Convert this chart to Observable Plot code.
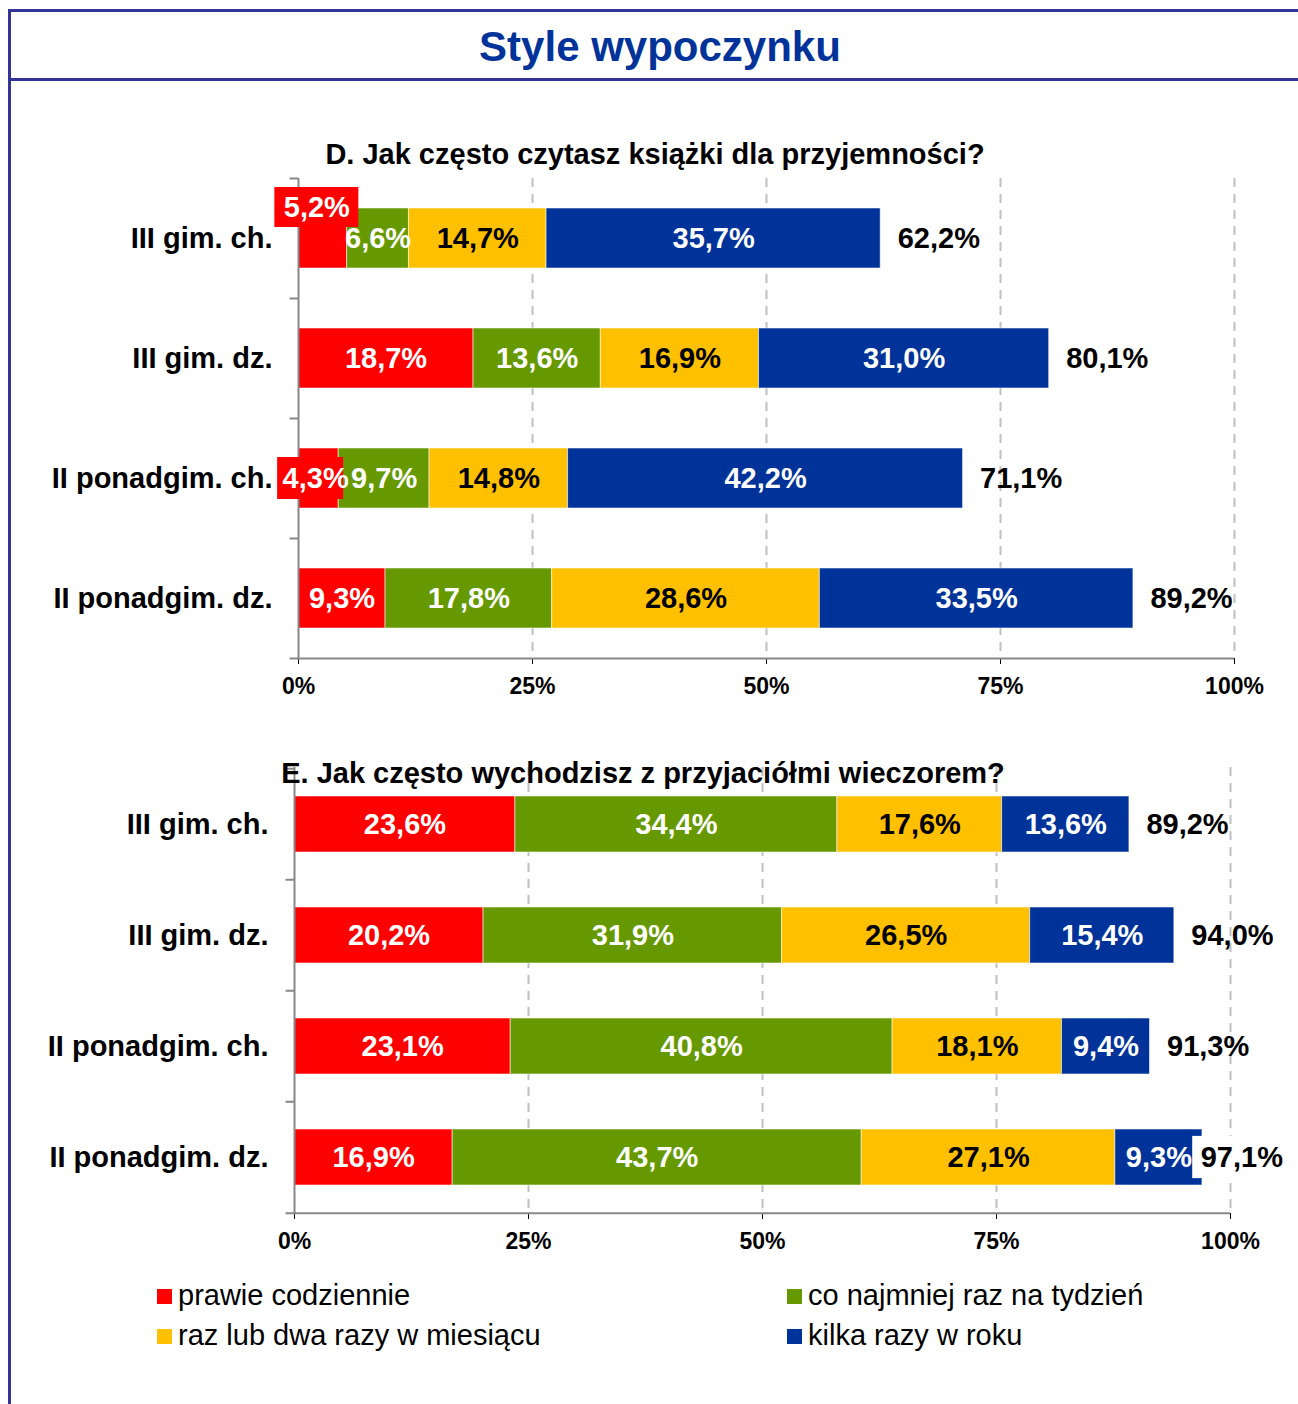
<!DOCTYPE html>
<html><head><meta charset="utf-8">
<script src="https://cdn.jsdelivr.net/npm/d3@7"></script>
<script src="https://cdn.jsdelivr.net/npm/@observablehq/plot@0.6"></script>
<style>
body{margin:0;background:#fff;}
#page{position:relative;width:1298px;height:1404px;overflow:hidden;background:#fff;font-family:"Liberation Sans",Arial,sans-serif;}
.abs{position:absolute;white-space:nowrap;line-height:1;}
.line{position:absolute;background:#333399;}
.chart{position:absolute;left:0;}
.sq{position:absolute;width:15px;height:15px;}
</style></head><body><div id="page"></div>
<script>
// ---------- data ----------
const mainTitle = "Style wypoczynku";
const seriesNames = ["prawie codziennie", "co najmniej raz na tydzień", "raz lub dwa razy w miesiącu", "kilka razy w roku"];
const seriesColors = ["#ff0000", "#669900", "#ffc000", "#003399"];
const categories = ["III gim. ch.", "III gim. dz.", "II ponadgim. ch.", "II ponadgim. dz."];
const xTicks = [0, 25, 50, 75, 100];

const titleD = "D. Jak często czytasz książki dla przyjemności?";
const dDaily   = [5.2, 18.7, 4.3, 9.3];
const dWeekly  = [6.6, 13.6, 9.7, 17.8];
const dMonthly = [14.7, 16.9, 14.8, 28.6];
const dYearly  = [35.7, 31.0, 42.2, 33.5];
const dTotals  = [62.2, 80.1, 71.1, 89.2];

const titleE = "E. Jak często wychodzisz z przyjaciółmi wieczorem?";
const eDaily   = [23.6, 20.2, 23.1, 16.9];
const eWeekly  = [34.4, 31.9, 40.8, 43.7];
const eMonthly = [17.6, 26.5, 18.1, 27.1];
const eYearly  = [13.6, 15.4, 9.4, 9.3];
const eTotals  = [89.2, 94.0, 91.3, 97.1];

// ---------- helpers ----------
const FONT = '"Liberation Sans", Arial, sans-serif';
const page = document.getElementById("page");
const fmt = v => v.toFixed(1).replace(".", ",") + "%";

function addLine(l, t, w, h) {
  const d = document.createElement("div");
  d.className = "line";
  Object.assign(d.style, {left: l + "px", top: t + "px", width: w + "px", height: h + "px"});
  page.appendChild(d);
}
function addText(txt, {cx, left, baseline, size, weight = "normal", color = "#000"}) {
  const d = document.createElement("div");
  d.className = "abs";
  d.textContent = txt;
  Object.assign(d.style, {fontSize: size + "px", fontWeight: weight, color, top: (baseline - 0.8465 * size) + "px"});
  if (cx !== undefined) { d.style.left = cx + "px"; d.style.transform = "translateX(-50%)"; }
  else d.style.left = left + "px";
  page.appendChild(d);
  return d;
}

function makeChart({series, totals, top, height, mTop, mBottom, mLeft, mRight, lifted}) {
  const segs = [];
  const rows = [];
  categories.forEach((cat, i) => {
    let cum = 0;
    series.forEach((arr, s) => {
      const v = arr[i];
      segs.push({cat, s, name: seriesNames[s], v, x1: cum, x2: cum + v, mid: cum + v / 2});
      cum += v;
    });
    rows.push({cat, sum: cum, label: totals[i]});
  });
  const step = (height - mTop - mBottom) / categories.length;
  const bw = step / 2;
  const isSmall = d => d.s === 0 && d.v < 6;
  const isLifted = d => isSmall(d) && lifted.includes(d.cat);
  const labelStyle = {x: "mid", y: "cat", text: d => fmt(d.v), fontSize: 29, fontWeight: "bold", fontFamily: FONT};
  const axisColor = "#878787";
  const clampAt = 95;
  const clamped = rows.filter(d => d.sum > clampAt);
  const boxInset = (bw - 42) / 2;

  const svg = Plot.plot({
    width: 1298, height,
    marginTop: mTop, marginBottom: mBottom, marginLeft: mLeft, marginRight: mRight,
    style: {fontFamily: FONT, fontSize: "23px", fontWeight: "bold", color: "#000", background: "transparent", overflow: "visible"},
    x: {domain: [0, 100], ticks: xTicks, tickFormat: d => d + "%", tickSize: 6, tickPadding: 13, label: null},
    y: {type: "band", domain: categories, paddingInner: 0.5, paddingOuter: 0.25, axis: null},
    color: {domain: seriesNames, range: seriesColors},
    marks: [
      Plot.ruleX(xTicks.slice(1), {stroke: "#c0c0c0", strokeWidth: 2, strokeDasharray: "9,7"}),
      Plot.barX(segs, {y: "cat", x1: "x1", x2: "x2", fill: "name", stroke: "#ffffff", strokeOpacity: 0.55, strokeWidth: 1}),
      Plot.ruleX([0], {stroke: axisColor, strokeWidth: 2}),
      Plot.ruleY(categories, {y: d => d, x1: -0.9, x2: 0, dy: -step / 2, stroke: axisColor, strokeWidth: 2}),
      Plot.ruleY(categories.slice(-1), {y: d => d, x1: -0.9, x2: 100, dy: step / 2, stroke: axisColor, strokeWidth: 2}),
      // red label boxes for small segments
      Plot.barX(segs.filter(d => isSmall(d) && !isLifted(d)), {y: "cat", x1: "mid", x2: "mid", dx: -8,
        insetLeft: -33, insetRight: -33, insetTop: boxInset, insetBottom: boxInset, fill: "#ff0000"}),
      Plot.barX(segs.filter(isLifted), {y: "cat", x1: "mid", x2: "mid", dx: -6, dy: -31,
        insetLeft: -42, insetRight: -42, insetTop: boxInset + 1, insetBottom: boxInset + 1, fill: "#ff0000"}),
      // white box behind a total label pushed into its bar
      Plot.barX(clamped, {y: "cat", x1: d => clampAt, x2: d => clampAt, insetLeft: 9, insetRight: -102,
        insetTop: (bw - 42) / 2, insetBottom: (bw - 42) / 2, fill: "white"}),
      Plot.text(segs.filter(d => d.s !== 2 && !isSmall(d)), {...labelStyle, fill: "white"}),
      Plot.text(segs.filter(d => d.s === 2), {...labelStyle, fill: "black"}),
      Plot.text(segs.filter(d => isSmall(d) && !isLifted(d)), {...labelStyle, dx: -3, fill: "white"}),
      Plot.text(segs.filter(isLifted), {...labelStyle, dx: -6, dy: -31, fill: "white"}),
      Plot.text(rows, {x: d => Math.min(d.sum, clampAt), y: "cat", dx: 17, textAnchor: "start", text: d => fmt(d.label),
        fill: "black", fontSize: 29, fontWeight: "bold", fontFamily: FONT}),
      Plot.text(categories, {y: d => d, frameAnchor: "left", dx: -26, textAnchor: "end", text: d => d, fill: "black", fontSize: 29, fontWeight: "bold", fontFamily: FONT})
    ]
  });
  svg.classList.add("chart");
  svg.style.top = top + "px";
  page.appendChild(svg);
}

// ---------- frame & title ----------
addLine(8, 9, 1290, 3);
addLine(8, 9, 3, 1395);
addLine(8, 78, 1290, 3);
addText(mainTitle, {cx: 660, baseline: 62, size: 42, weight: "bold", color: "#003399"});

// ---------- charts ----------
makeChart({series: [dDaily, dWeekly, dMonthly, dYearly], totals: dTotals, top: 160, height: 560,
  mTop: 18, mBottom: 62, mLeft: 298, mRight: 64, lifted: ["III gim. ch."]});
addText(titleD, {cx: 655, baseline: 165, size: 29, weight: "bold"});

makeChart({series: [eDaily, eWeekly, eMonthly, eYearly], totals: eTotals, top: 750, height: 520,
  mTop: 17, mBottom: 57, mLeft: 294, mRight: 68, lifted: []});
addText(titleE, {cx: 643, baseline: 784, size: 29, weight: "bold"});

// ---------- legend ----------
const legendPos = [[157, 1306], [787, 1306], [157, 1346], [787, 1346]];
seriesNames.forEach((name, i) => {
  const [x, b] = legendPos[i];
  const sq = document.createElement("div");
  sq.className = "sq";
  Object.assign(sq.style, {left: x + "px", top: (b - 17) + "px", background: seriesColors[i]});
  page.appendChild(sq);
  addText(name, {left: x + 21, baseline: b, size: 29});
});
</script></body></html>
